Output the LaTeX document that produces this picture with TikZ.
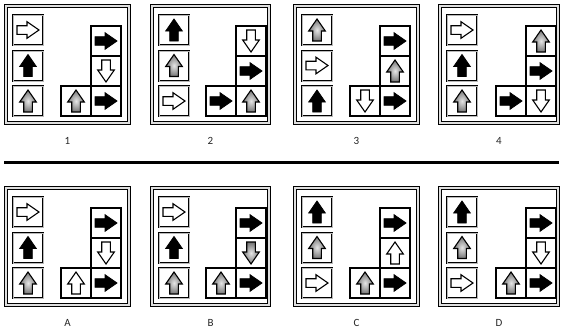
\documentclass[tikz,border=0pt]{standalone}
\usepackage{fontspec}
\setmainfont{Carlito}
\tikzset{
  barrow/.pic={\path[pic actions] (-11,-4.3)--(-1,-4.3)--(-1,-8.3)--(11,0)--(-1,8.3)--(-1,4.3)--(-11,4.3)--cycle;},
  wA/.style={draw=black, fill=white, line width=1.1pt, line join=miter},
  bA/.style={draw=black, fill=black, line width=0.8pt, line join=miter},
  gA/.style={draw=black, line width=1.1pt, line join=miter, inner color=gray!20, outer color=gray!90!black},
  frame/.style={draw=black, line width=1pt, double=gray!25, double distance=1.2pt},
  lcell/.style={draw=black, line width=0.9pt, double=gray!55, double distance=0.9pt},
  rcell/.style={draw=black, line width=1.1pt},
  lab/.style={font=\fontsize{11}{12}\selectfont, text=black!85, inner sep=0pt},
}
% #1 x0, #2 y0, #3 x1, #4 rc, #5 label, #6 left specs, #7 right specs, #8 middle spec, #9 name
\newcommand\mypanel[9]{%
  \draw[frame] (#1,#2) rectangle (#3,#2+117);
  \draw[lcell] (#1+7,#2+9) rectangle (#1+37,#2+39);
  \draw[lcell] (#1+7,#2+45) rectangle (#1+37,#2+75);
  \draw[lcell] (#1+7,#2+80) rectangle (#1+37,#2+110);
  \draw[rcell] (#4,#2+20) rectangle (#4+30,#2+110);
  \draw[rcell] (#4,#2+50) -- (#4+30,#2+50);
  \draw[rcell] (#4,#2+80) -- (#4+30,#2+80);
  \draw[rcell] (#4-30,#2+80) rectangle (#4,#2+110);
  \foreach \k/\a [count=\i] in {#6} {\pic[\k, rotate=\a] at (#1+22,#2+24+35.5*\i-35.5) {barrow};}
  \foreach \k/\a [count=\i] in {#7} {\pic[\k, rotate=\a] at (#4+15,#2+35+30*\i-30) {barrow};}
  \foreach \k/\a in {#8} {\pic[\k, rotate=\a] at (#4-15,#2+95) {barrow};}
  \node[lab] (#9) at ({(#1+#3)/2},#2+135) {#5};
}
\begin{document}
\begin{tikzpicture}[x=1pt,y=-1pt]
\useasboundingbox (0,0) rectangle (561,332);
\mypanel{6}{6}{129}{91}{1}{wA/0,bA/90,gA/90}{bA/0,wA/-90,bA/0}{gA/90}{l1}
\mypanel{152}{6}{269}{236}{2}{bA/90,gA/90,wA/0}{wA/-90,bA/0,gA/90}{bA/0}{l2}
\mypanel{295}{6}{418}{380}{3}{gA/90,wA/0,bA/90}{bA/0,gA/90,bA/0}{wA/-90}{l3}
\mypanel{440}{6}{558}{526}{4}{wA/0,bA/90,gA/90}{gA/90,bA/0,wA/-90}{bA/0}{l4}
\draw[line width=3.6pt] (4,162.5) -- (559,162.5);
\mypanel{6}{188}{129}{91}{A}{wA/0,bA/90,gA/90}{bA/0,wA/-90,bA/0}{wA/90}{lA}
\mypanel{152}{188}{269}{236}{B}{wA/0,bA/90,gA/90}{bA/0,gA/-90,bA/0}{gA/90}{lB}
\mypanel{295}{188}{418}{380}{C}{bA/90,gA/90,wA/0}{bA/0,wA/90,bA/0}{gA/90}{lC}
\mypanel{440}{188}{558}{526}{D}{bA/90,gA/90,wA/0}{bA/0,wA/-90,bA/0}{gA/90}{lD}
\end{tikzpicture}
\end{document}
